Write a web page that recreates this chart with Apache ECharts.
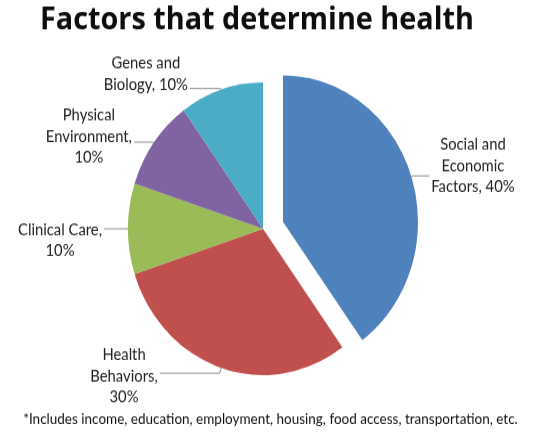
<!DOCTYPE html>
<html>
<head>
<meta charset="utf-8">
<script src="https://cdn.jsdelivr.net/npm/echarts@6/dist/echarts.min.js"></script>
<style>
  html, body { margin: 0; padding: 0; background: #ffffff; overflow: hidden; }
  #wrap { width: 541px; height: 438px; overflow: hidden; }
  #chart { width: 541px; height: 404px; transform: scaleY(1.0842); transform-origin: 0 0; }
</style>
</head>
<body>
<div id="wrap"><div id="chart"></div></div>
<script>
// ---- data ----
const titleText = 'Factors that determine health';
const footnoteText = '*Includes income, education, employment, housing, food access, transportation, etc.';
const categories = ['Social and Economic Factors', 'Health Behaviors', 'Clinical Care', 'Physical Environment', 'Genes and Biology'];
const labelNames = ['Social and\nEconomic\nFactors', 'Health\nBehaviors', 'Clinical Care', 'Physical\nEnvironment', 'Genes and\nBiology'];
const valueOnOwnLine = [false, true, true, true, false];
const values = [40, 30, 10, 10, 10];

// ---- styles ----
const colors = ['#4F81BD', '#C0504D', '#9BBB59', '#8064A2', '#4BACC6'];
const lineLen = [2, 5, 1, 1, 1];
const lineLen2 = [16, 60, 23, 19, 31];
const labelPad = [[0,0,18,0], [6,0,0,0], [21,0,0,0], [0,0,10,0], [0,0,27,0]];

const chart = echarts.init(document.getElementById('chart'), null, { renderer: 'canvas' });

const data = categories.map((name, i) => ({
  name: name,
  value: values[i],
  selected: i === 0,
  itemStyle: { color: colors[i] },
  labelLine: { length: lineLen[i], length2: lineLen2[i] },
  label: { padding: labelPad[i] }
}));

chart.setOption({
  animation: false,
  backgroundColor: '#ffffff',
  title: [
    {
      text: titleText,
      left: 40,
      top: 4,
      padding: 0,
      textStyle: { fontFamily: 'Open Sans', fontWeight: 'bold', fontSize: 28.8, color: '#0d0d0d' }
    },
    {
      text: footnoteText,
      left: 'center',
      top: 380,
      padding: 0,
      textStyle: { fontFamily: 'Lato', fontWeight: 'normal', fontSize: 13.5, color: '#111111' }
    }
  ],
  series: [{
    type: 'pie',
    center: [263, 211],
    radius: 135,
    startAngle: 90,
    clockwise: true,
    avoidLabelOverlap: false,
    selectedMode: 'single',
    selectedOffset: 21,
    itemStyle: { borderWidth: 0 },
    emphasis: { scale: false },
    label: {
      show: true,
      position: 'outside',
      alignTo: 'none',
      distanceToLabelLine: 2,
      formatter: function (p) {
        const i = p.dataIndex;
        const txt = labelNames[i] + ',' + (valueOnOwnLine[i] ? '\n' : ' ') + values[i] + '%';
        return txt.split('\n').map(s => '{t|' + s + '}').join('\n');
      },
      rich: {
        t: { align: 'center', fontFamily: 'Lato', fontSize: 14.8, lineHeight: 19.5, color: '#222222' }
      }
    },
    labelLine: {
      show: true,
      smooth: false,
      lineStyle: { color: '#8f8f8f', width: 1 }
    },
    data: data
  }]
});
</script>
</body>
</html>
